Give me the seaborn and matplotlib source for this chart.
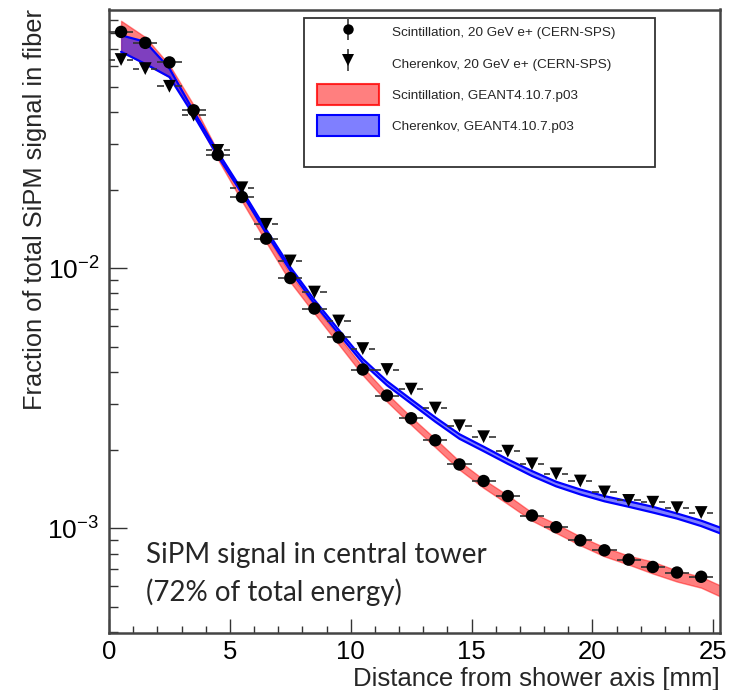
import numpy as np
import pandas as pd
import matplotlib
matplotlib.use("Agg")
import matplotlib.pyplot as plt
import seaborn as sns
from matplotlib.lines import Line2D
from matplotlib.patches import Patch, Rectangle

# ---------------- data ----------------
x_bins = [0.5, 1.5, 2.5, 3.5, 4.5, 5.5, 6.5, 7.5, 8.5, 9.5, 10.5, 11.5, 12.5,
          13.5, 14.5, 15.5, 16.5, 17.5, 18.5, 19.5, 20.5, 21.5, 22.5, 23.5, 24.5]
scint_data = [0.0811, 0.0736, 0.0619, 0.0405, 0.0273, 0.0188, 0.0130, 0.00917,
              0.0070, 0.00542, 0.00408, 0.00324, 0.00265, 0.00218, 0.00176,
              0.00152, 0.00133, 0.00112, 0.00101, 0.000899, 0.000823, 0.000758,
              0.00071, 0.000676, 0.000651]
cher_data = [0.0635, 0.0586, 0.0501, 0.0388, 0.0284, 0.0204, 0.01476, 0.01067,
             0.0081, 0.00627, 0.00491, 0.00408, 0.00343, 0.0029, 0.00248,
             0.00225, 0.00198, 0.00177, 0.00162, 0.00152, 0.00138, 0.00128,
             0.00126, 0.00120, 0.00115]
x_err = 0.5

x_sim = [0.5, 1.5, 2.5, 3.5, 4.5, 5.5, 6.5, 7.5, 8.5, 9.5, 10.5, 11.5, 12.5,
         13.5, 14.5, 15.5, 16.5, 17.5, 18.5, 19.5, 20.5, 21.5, 22.5, 23.5, 24.5, 25.5]
scint_sim_lo = [0.0683, 0.0611, 0.0544, 0.0392, 0.0263, 0.0181, 0.0126, 0.00885,
                0.0067, 0.0051, 0.00388, 0.00307, 0.0025, 0.00205, 0.00168,
                0.00143, 0.00124, 0.00107, 0.00096, 0.00086, 0.00078, 0.000725,
                0.00067, 0.000624, 0.000591, 0.000536]
scint_sim_hi = [0.0895, 0.0775, 0.0605, 0.0425, 0.0282, 0.0194, 0.0135, 0.0095,
                0.0072, 0.00548, 0.00417, 0.0033, 0.00268, 0.00221, 0.00181,
                0.00154, 0.00134, 0.00115, 0.00104, 0.00093, 0.000845, 0.000785,
                0.000744, 0.000688, 0.000651, 0.000591]
cher_sim_lo = [0.068, 0.0611, 0.0544, 0.0388, 0.0270, 0.0194, 0.01365, 0.0098,
               0.0073, 0.0056, 0.00432, 0.00355, 0.00302, 0.00257, 0.00221,
               0.00198, 0.00177, 0.00159, 0.00145, 0.00135, 0.00127, 0.00121,
               0.00115, 0.00109, 0.00102, 0.00094]
cher_sim_hi = [0.0787, 0.0743, 0.0587, 0.0402, 0.0280, 0.0200, 0.0141, 0.0101,
               0.00755, 0.0058, 0.00448, 0.00368, 0.00313, 0.00267, 0.0023,
               0.00206, 0.00184, 0.00166, 0.00151, 0.00141, 0.00133, 0.00127,
               0.00121, 0.00114, 0.00107, 0.00099]

labels = ["Scintillation, 20 GeV e+ (CERN-SPS)",
          "Cherenkov, 20 GeV e+ (CERN-SPS)",
          "Scintillation, GEANT4.10.7.p03",
          "Cherenkov, GEANT4.10.7.p03"]
xlabel = "Distance from shower axis [mm]"
ylabel = "Fraction of total SiPM signal in fiber"
note_lines = ["SiPM signal in central tower", "(72% of total energy)"]

df = pd.DataFrame({"x": x_bins, "scint": scint_data, "cher": cher_data})

# ---------------- style ----------------
sns.set_theme(style="ticks")
plt.rcParams["font.family"] = ["Liberation Sans", "DejaVu Sans"]
plt.rcParams["mathtext.default"] = "regular"

W, H = 732, 690
fig = plt.figure(figsize=(W / 100, H / 100), dpi=100)
ax_l, ax_r, ax_t, ax_b = 109, 720, 9.5, 633
ax = fig.add_axes([ax_l / W, 1 - ax_b / H, (ax_r - ax_l) / W, (ax_b - ax_t) / H])

# simulation bands
ax.fill_between(x_sim, scint_sim_lo, scint_sim_hi, facecolor=(1, 0, 0, 0.5),
                edgecolor=(1, 0, 0, 0.45), linewidth=1.0, zorder=2)
ax.fill_between(x_sim, cher_sim_lo, cher_sim_hi, facecolor=(0, 0, 1, 0.5),
                edgecolor="none", linewidth=0, zorder=3)
ax.plot(x_sim, cher_sim_lo, color="#0000ff", lw=1.6, zorder=3)
ax.plot(x_sim, cher_sim_hi, color="#0000ff", lw=1.6, zorder=3)

# horizontal error bars (with gap around the marker)
xb = np.array(x_bins)
gap = 0.24
for yv in (df["scint"], df["cher"]):
    ax.hlines(yv, xb - x_err, xb - gap, color="#333333", lw=1.2, zorder=4)
    ax.hlines(yv, xb + gap, xb + x_err, color="#333333", lw=1.2, zorder=4)

# data markers
sns.scatterplot(data=df, x="x", y="scint", marker="o", s=80, color="black",
                edgecolor="none", linewidth=0, ax=ax, zorder=5, legend=False)
sns.scatterplot(data=df, x="x", y="cher", marker="v", s=85, color="black",
                edgecolor="none", linewidth=0, ax=ax, zorder=5, legend=False)

ax.set_yscale("log")
ax.set_xlim(0, 25.28)
ax.set_ylim(3.957e-4, 0.0989)

ax.set_xticks([0, 5, 10, 15, 20, 25])
ax.set_xticks(np.arange(0, 26, 1), minor=True)
ax.tick_params(axis="x", which="major", direction="in", length=10, width=1.0,
               labelsize=18.5, pad=5, colors="#333333", labelcolor="black")
ax.tick_params(axis="x", which="minor", direction="in", length=5, width=1.0,
               colors="#333333")
ax.tick_params(axis="y", which="major", direction="in", length=13, width=1.0,
               labelsize=19, pad=7, colors="#333333", labelcolor="black")
ax.tick_params(axis="y", which="minor", direction="in", length=6.5, width=1.0,
               colors="#333333")
ax.yaxis.set_minor_formatter(matplotlib.ticker.NullFormatter())
ax.tick_params(top=False, right=False, which="both")

for sp in ax.spines.values():
    sp.set_color("#444444")
    sp.set_linewidth(1.8)

ax.set_xlabel(xlabel, fontsize=18.5, loc="right", labelpad=2)
ax.set_ylabel(ylabel, fontsize=18.3, loc="top", labelpad=0)

# annotation
ax.text(0.0606, (ax_b - 563) / (ax_b - ax_t), note_lines[0], transform=ax.transAxes,
        fontsize=20, family=["Lato", "DejaVu Sans"], va="baseline", ha="left", zorder=6)
ax.text(0.0606, (ax_b - 601) / (ax_b - ax_t), note_lines[1], transform=ax.transAxes,
        fontsize=20, family=["Lato", "DejaVu Sans"], va="baseline", ha="left", zorder=6)

# legend
def fx(px):
    return (px - ax_l) / (ax_r - ax_l)

def fy(py):
    return (ax_b - py) / (ax_b - ax_t)

ax.add_patch(Rectangle((fx(304), fy(167)), fx(655) - fx(304), fy(18) - fy(167),
                       transform=ax.transAxes, facecolor="white", edgecolor="#333333",
                       linewidth=1.3, zorder=7))
bar = Line2D([], [], marker="|", markersize=16, mew=1.4, color="#555555", linestyle="none")
h_sc = (bar, Line2D([], [], marker="o", markersize=7.5, color="black", mew=0, linestyle="none"))
h_ch = (bar, Line2D([], [], marker="v", markersize=8, color="black", mew=0, linestyle="none"))
h_rs = Patch(facecolor=(1, 0, 0, 0.5), edgecolor=(1, 0, 0, 0.8), linewidth=1.5)
h_bs = Patch(facecolor=(0, 0, 1, 0.5), edgecolor="#0000ff", linewidth=1.5)
leg = ax.legend([h_sc, h_ch, h_rs, h_bs], labels, loc="upper left",
                bbox_to_anchor=(fx(317), fy(21.5)), frameon=False, fontsize=9.7,
                handlelength=4.6, handleheight=2.0, labelspacing=0.78,
                handletextpad=0.97, borderpad=0, borderaxespad=0)
leg.set_zorder(8)

fig.savefig("out.png", dpi=100)
